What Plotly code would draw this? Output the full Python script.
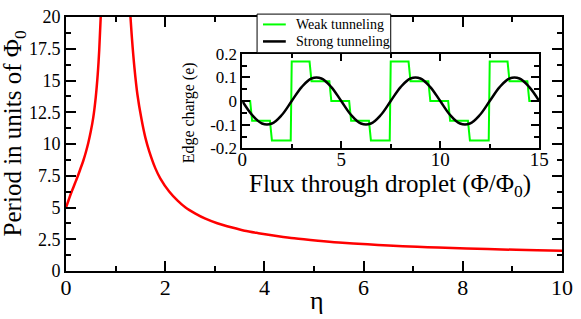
import plotly.graph_objects as go

# ---------------- data ----------------
# main curve: period (in units of Phi_0) vs eta, two branches around eta ~ 1
eta_left = [0.00, 0.05, 0.10, 0.15, 0.20, 0.25, 0.30, 0.35, 0.40, 0.45, 0.50, 0.55, 0.60, 0.64, 0.67, 0.70]
per_left = [5.0, 5.55, 6.1, 6.6, 7.1, 7.6, 8.15, 8.7, 9.35, 10.1, 11.0, 12.1, 13.7, 15.5, 17.4, 20.0]
eta_right = [1.30, 1.33, 1.38, 1.44, 1.52, 1.60, 1.68, 1.80, 1.90, 2.08, 2.25, 2.41, 2.60,
             2.81, 3.05, 3.35, 3.60, 3.88, 4.28, 4.60, 5.08, 5.50, 6.08, 6.50, 7.08,
             7.50, 8.08, 8.50, 9.08, 9.50, 10.0]
per_right = [20.0, 18.3, 16.0, 13.9, 12.0, 10.5, 9.4, 8.1, 7.3, 6.26, 5.54, 5.0, 4.54,
             4.12, 3.76, 3.42, 3.17, 2.98, 2.74, 2.57, 2.38, 2.24, 2.10, 2.01, 1.91,
             1.85, 1.78, 1.73, 1.67, 1.64, 1.60]

# inset: edge charge vs flux
weak_flux = [0, 0.4, 0.5, 1.4, 1.5, 2.45, 2.5, 3.4, 3.5, 4.4, 4.5, 5.4, 5.5, 6.4, 6.5, 7.45,
             7.5, 8.4, 8.5, 9.4, 9.5, 10.4, 10.5, 11.4, 11.5, 12.45, 12.5, 13.4, 13.5, 14.4,
             14.5, 15]
weak_q = [0, 0, -0.0833, -0.0833, -0.1667, -0.1667, 0.1667, 0.1667, 0.0833, 0.0833, 0, 0,
          -0.0833, -0.0833, -0.1667, -0.1667, 0.1667, 0.1667, 0.0833, 0.0833, 0, 0,
          -0.0833, -0.0833, -0.1667, -0.1667, 0.1667, 0.1667, 0.0833, 0.0833, 0, 0]
strong_flux = [0, 0.5, 1, 1.5, 2, 2.5, 3, 3.5, 4, 4.5, 5, 5.5, 6, 6.5, 7, 7.5, 8, 8.5, 9,
               9.5, 10, 10.5, 11, 11.5, 12, 12.5, 13, 13.5, 14, 14.5, 15]
strong_q = [0, -0.059, -0.095, -0.095, -0.059, 0, 0.059, 0.095, 0.095, 0.059,
            0, -0.059, -0.095, -0.095, -0.059, 0, 0.059, 0.095, 0.095, 0.059,
            0, -0.059, -0.095, -0.095, -0.059, 0, 0.059, 0.095, 0.095, 0.059, 0]

main_xtickvals = [0, 2, 4, 6, 8, 10]
main_xticktext = ["0", "2", "4", "6", "8", "10"]
main_ytickvals = [0, 2.5, 5, 7.5, 10, 12.5, 15, 17.5, 20]
main_yticktext = ["0", "2.5", "5", "7.5", "10", "12.5", "15", "17.5", "20"]
inset_xtickvals = [0, 5, 10, 15]
inset_xticktext = ["0", "5", "10", "15"]
inset_ytickvals = [-0.2, -0.1, 0, 0.1, 0.2]
inset_yticktext = ["-0.2", "-0.1", "0", "0.1", "0.2"]

legend_names = ["Weak tunneling", "Strong tunneling"]
legend_colors = ["#00ff00", "black"]

# ---------------- layout helpers ----------------
W, H = 581, 319
L, R, T, B = 66, 14, 8, 48
PW, PH = W - L - R, H - T - B


def px_x(x):
    return (x - L) / PW


def px_y(y):
    return (H - B - y) / PH


SERIF = "Liberation Serif"

fig = go.Figure()
fig.add_trace(go.Scatter(x=eta_left, y=per_left, mode="lines", showlegend=False,
                         line=dict(color="#ff0000", width=2.5, shape="spline", smoothing=0.8)))
fig.add_trace(go.Scatter(x=eta_right, y=per_right, mode="lines", showlegend=False,
                         line=dict(color="#ff0000", width=2.5, shape="spline", smoothing=0.8)))
fig.add_trace(go.Scatter(x=weak_flux, y=weak_q, mode="lines", name=legend_names[0],
                         xaxis="x2", yaxis="y2", showlegend=False,
                         line=dict(color=legend_colors[0], width=2)))
fig.add_trace(go.Scatter(x=strong_flux, y=strong_q, mode="lines", name=legend_names[1],
                         xaxis="x2", yaxis="y2", showlegend=False,
                         line=dict(color=legend_colors[1], width=2.5, shape="spline")))

axis_common = dict(showgrid=False, zeroline=False, showline=True, linecolor="black",
                   mirror="ticks", ticks="inside", tickcolor="black")

# legend box drawn in paper space (box, line samples, labels)
shapes = [dict(type="rect", xref="paper", yref="paper",
               x0=px_x(259), x1=px_x(394), y0=px_y(45), y1=px_y(5),
               fillcolor="white", line=dict(color="black", width=1), layer="above")]
annotations = []
for i, (name, col) in enumerate(zip(legend_names, legend_colors)):
    yy = 15.7 + 17.6 * i
    shapes.append(dict(type="line", xref="paper", yref="paper",
                       x0=px_x(265), x1=px_x(288), y0=px_y(yy), y1=px_y(yy),
                       line=dict(color=col, width=2 if i == 0 else 2.5), layer="above"))
    annotations.append(dict(text=name, xref="paper", yref="paper",
                            x=px_x(296), y=px_y(yy), xanchor="left", yanchor="middle",
                            showarrow=False, font=dict(size=14, family=SERIF)))

annotations += [
    dict(text="Period in units of Φ<sub>0</sub>", xref="paper", yref="paper",
         x=px_x(14), y=px_y(129), xanchor="center", yanchor="middle", textangle=-90,
         showarrow=False, font=dict(size=25, family=SERIF)),
    dict(text="η", xref="paper", yref="paper",
         x=px_x(320), y=px_y(302), xanchor="center", yanchor="middle",
         showarrow=False, font=dict(size=26, family=SERIF)),
    dict(text="Flux through droplet (Φ/Φ<sub>0</sub>)", xref="paper", yref="paper",
         x=px_x(393), y=px_y(182), xanchor="center", yanchor="middle",
         showarrow=False, font=dict(size=25, family=SERIF)),
    dict(text="Edge charge (e)", xref="paper", yref="paper",
         x=px_x(190), y=px_y(107), xanchor="center", yanchor="middle", textangle=-90,
         showarrow=False, font=dict(size=16, family=SERIF)),
]

fig.update_layout(
    width=W, height=H,
    margin=dict(l=L, r=R, t=T, b=B),
    paper_bgcolor="white", plot_bgcolor="white",
    font=dict(family=SERIF, color="black"),
    showlegend=False,
    xaxis=dict(domain=[0, 1], range=[0, 10], tickvals=main_xtickvals,
               ticktext=main_xticktext, ticklen=10, tickwidth=1.5,
               linewidth=2, tickfont=dict(size=22, family=SERIF), ticklabelstandoff=-4,
               minor=dict(dtick=1, tick0=0, ticklen=5, tickwidth=1.5, ticks="inside", tickcolor="black"),
               **axis_common),
    yaxis=dict(domain=[0, 1], range=[0, 20], tickvals=main_ytickvals,
               ticktext=main_yticktext, ticklen=10, tickwidth=1.5,
               linewidth=2, tickfont=dict(size=18, family=SERIF),
               minor=dict(dtick=1.25, tick0=0, ticklen=5, tickwidth=1.5, ticks="inside", tickcolor="black"),
               **axis_common),
    xaxis2=dict(domain=[px_x(244), px_x(544)], anchor="y2", range=[0, 15],
                tickvals=inset_xtickvals, ticktext=inset_xticktext,
                ticklen=8, tickwidth=1.5, linewidth=1.5,
                tickfont=dict(size=19, family=SERIF), ticklabelstandoff=-7,
                minor=dict(dtick=2.5, tick0=0, ticklen=5, tickwidth=1.5, ticks="inside", tickcolor="black"),
                **axis_common),
    yaxis2=dict(domain=[px_y(144), px_y(46)], anchor="x2", range=[-0.2, 0.2],
                tickvals=inset_ytickvals, ticktext=inset_yticktext,
                ticklen=8, tickwidth=1.5, linewidth=1.5,
                tickfont=dict(size=17, family=SERIF),
                minor=dict(dtick=0.05, tick0=0, ticklen=5, tickwidth=1.5, ticks="inside", tickcolor="black"),
                **axis_common),
    shapes=shapes,
    annotations=annotations,
)

fig.write_html("out.html", config={"displayModeBar": False},
               post_script="document.body.style.margin='0';document.body.style.overflow='hidden';")
